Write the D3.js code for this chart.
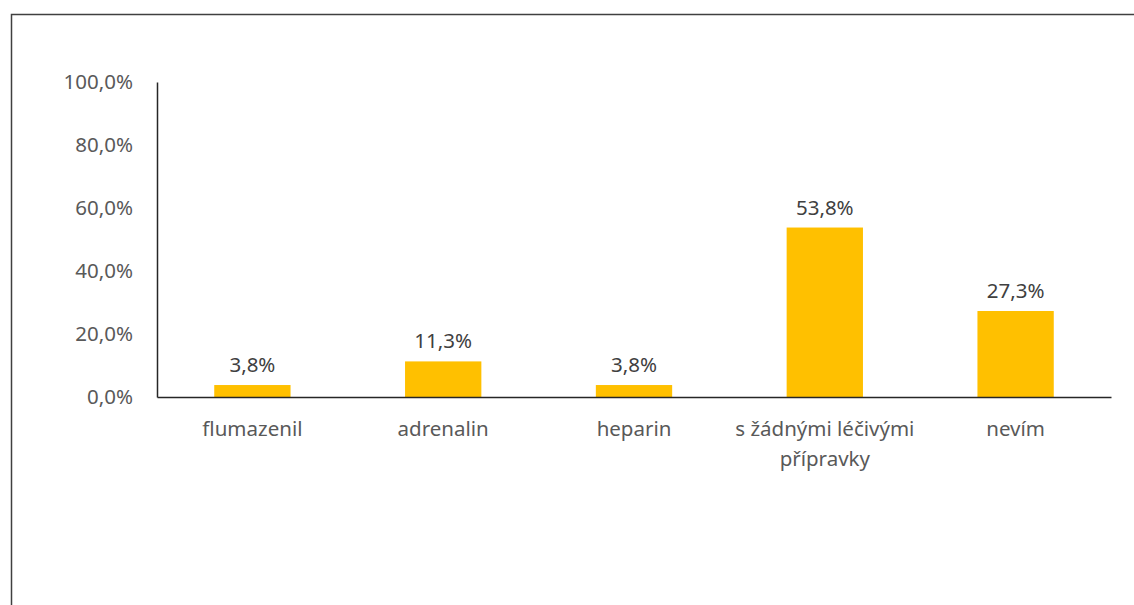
<!DOCTYPE html>
<html><head><meta charset="utf-8">
<script src="https://cdn.jsdelivr.net/npm/d3@7"></script>
<style>html,body{margin:0;padding:0;background:#fff;}svg{display:block;}</style>
</head><body>
<svg id="c" width="1134" height="605"></svg>
<script>
const categories = [["flumazenil"], ["adrenalin"], ["heparin"], ["s žádnými léčivými", "přípravky"], ["nevím"]];
const values = [3.8, 11.3, 3.8, 53.8, 27.3];
const yTicks = [0, 20, 40, 60, 80, 100];

const svg = d3.select("#c");
const font = "'Noto Sans', sans-serif";
const fs = 20.5;
const m = {left: 157, right: 1111, top: 82, bottom: 397};

// chart frame
svg.append("path").attr("d", "M11.5,605 L11.5,14.5 L1134,14.5")
  .attr("fill", "none").attr("stroke", "#404040").attr("stroke-width", 1.5);

const x = d3.scaleBand().domain(d3.range(values.length)).range([m.left, m.right]).padding(0);
const y = d3.scaleLinear().domain([0, 100]).range([m.bottom, m.top]);
const fmt = v => v.toFixed(1).replace(".", ",") + "%";

// bars
const bw = x.bandwidth() * 0.4;
svg.selectAll("rect.bar").data(values).join("rect").attr("class", "bar")
  .attr("x", (d, i) => x(i) + x.bandwidth() / 2 - bw / 2)
  .attr("width", bw)
  .attr("y", d => y(d))
  .attr("height", d => y(0) - y(d))
  .attr("fill", "#FFC000");

// y axis
const yAxis = d3.axisLeft(y).tickValues(yTicks).tickSize(0).tickPadding(24).tickFormat(fmt);
const gy = svg.append("g").attr("transform", `translate(${m.left},0)`).call(yAxis);
gy.select(".domain").attr("stroke", "#262626").attr("stroke-width", 1.5);
gy.selectAll("text").attr("font-family", font).attr("font-size", fs).attr("fill", "#595959");

// x axis
const gx = svg.append("g").attr("transform", `translate(0,${m.bottom})`)
  .call(d3.axisBottom(x).tickSize(0).tickFormat(""));
gx.select(".domain").attr("stroke", "#262626").attr("stroke-width", 1.5);

// category labels
svg.selectAll("text.cat").data(categories).join("text").attr("class", "cat")
  .attr("font-family", font).attr("font-size", fs).attr("fill", "#595959")
  .attr("text-anchor", "middle")
  .attr("transform", (d, i) => `translate(${x(i) + x.bandwidth() / 2},${m.bottom + 39})`)
  .selectAll("tspan").data(d => d).join("tspan")
  .attr("x", 0).attr("dy", (d, j) => j === 0 ? 0 : 30).text(d => d);

// value labels
svg.selectAll("text.val").data(values).join("text").attr("class", "val")
  .attr("font-family", font).attr("font-size", fs).attr("fill", "#404040")
  .attr("text-anchor", "middle")
  .attr("x", (d, i) => x(i) + x.bandwidth() / 2)
  .attr("y", d => y(d) - 13)
  .text(fmt);
</script>
</body></html>
